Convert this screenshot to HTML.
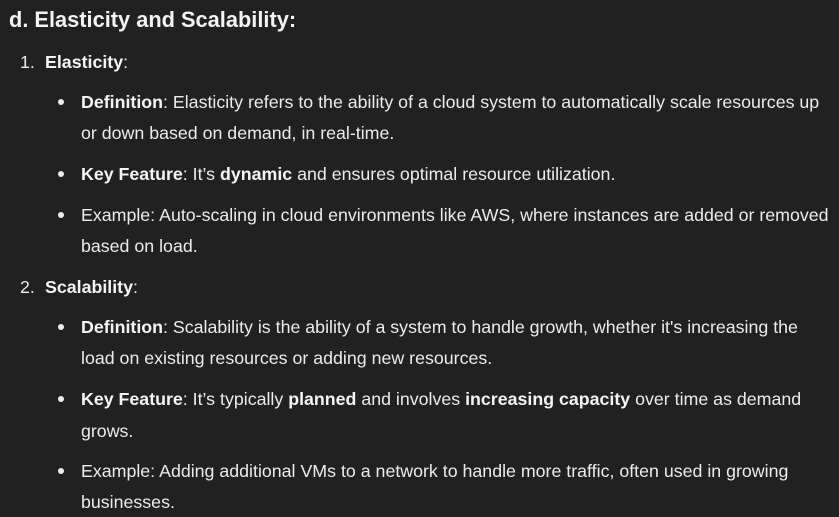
<!DOCTYPE html><html><head><style>
body{margin:0;width:839px;height:517px;background:#212121;color:#ececec;font-family:"Liberation Sans",sans-serif;position:relative;overflow:hidden}
.l{position:absolute;white-space:nowrap;line-height:20px;font-size:17.8px}
b{font-weight:bold;color:#f4f4f4}
.d{position:absolute;width:6px;height:6px;border-radius:50%;background:#ececec;left:58px}
</style></head><body>
<div class="l" style="left:9px;top:8px;font-size:21.8px;line-height:24px;font-weight:bold;color:#f4f4f4">d. Elasticity and Scalability:</div>
<div class="l" style="left:20px;top:52px">1.</div><div class="l" style="left:45px;top:52px"><b>Elasticity</b>:</div>
<div class="d" style="top:99px"></div><div class="l" style="left:81px;top:92px"><b>Definition</b>: Elasticity refers to the ability of a cloud system to automatically scale resources up</div>
<div class="l" style="left:81px;top:123px">or down based on demand, in real-time.</div>
<div class="d" style="top:171px"></div><div class="l" style="left:81px;top:164px"><b>Key Feature</b>: It’s <b>dynamic</b> and ensures optimal resource utilization.</div>
<div class="d" style="top:212px"></div><div class="l" style="left:81px;top:205px">Example: Auto-scaling in cloud environments like AWS, where instances are added or removed</div>
<div class="l" style="left:81px;top:236px">based on load.</div>
<div class="l" style="left:20px;top:277px">2.</div><div class="l" style="left:45px;top:277px"><b>Scalability</b>:</div>
<div class="d" style="top:324px"></div><div class="l" style="left:81px;top:317px"><b>Definition</b>: Scalability is the ability of a system to handle growth, whether it's increasing the</div>
<div class="l" style="left:81px;top:348px">load on existing resources or adding new resources.</div>
<div class="d" style="top:396px"></div><div class="l" style="left:81px;top:389px"><b>Key Feature</b>: It’s typically <b>planned</b> and involves <b>increasing capacity</b> over time as demand</div>
<div class="l" style="left:81px;top:421px">grows.</div>
<div class="d" style="top:468px"></div><div class="l" style="left:81px;top:461px">Example: Adding additional VMs to a network to handle more traffic, often used in growing</div>
<div class="l" style="left:81px;top:492px">businesses.</div>
</body></html>
